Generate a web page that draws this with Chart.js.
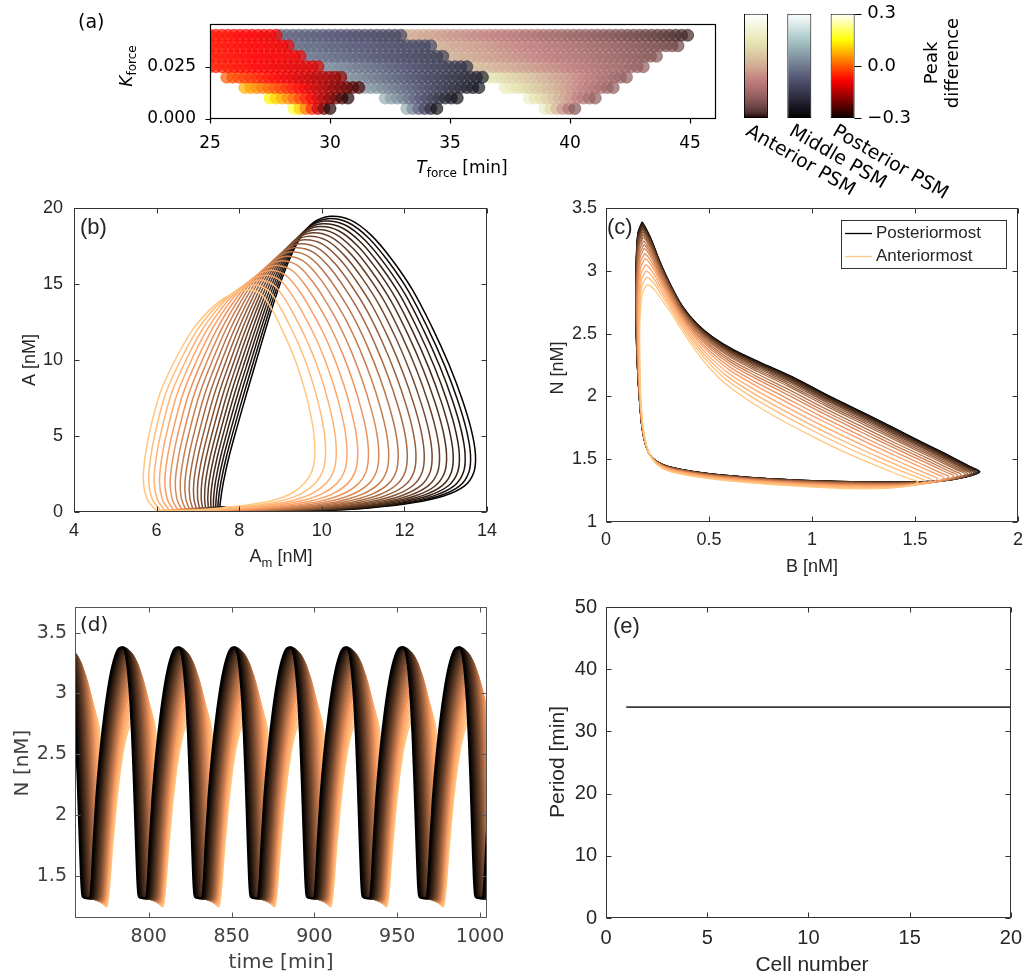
<!DOCTYPE html>
<html>
<head>
<meta charset="utf-8">
<script src="https://cdn.jsdelivr.net/npm/chart.js@4.4.1/dist/chart.umd.min.js"></script>
<style>
  body { margin: 0; background: #fff; }
  #wrap { position: relative; width: 1030px; height: 978px; }
  #wrap canvas { position: absolute; left: 0; top: 0; }
</style>
</head>
<body>
<div id="wrap"></div>
<script>
// ---------------- data ----------------

// (a) forcing scan: one row of circles per K_force value
const kRows = [0.005, 0.010, 0.015, 0.020, 0.025, 0.030, 0.035, 0.040];
const tGridStep = 0.25;
const postFrom = [28.5, 27.5, 26.45, 25.7, 25.0, 25.0, 25.0, 25.0];
const postTo = [30.1, 30.8, 31.2, 30.4, 29.45, 28.7, 28.2, 27.7];
const postDiffFrom = [0.18, 0.14, 0.08, 0.0, -0.05, -0.06, -0.06, -0.06];
const postDiffTo = [-0.28, -0.28, -0.25, -0.18, -0.12, -0.1, -0.1, -0.1];
const midFrom = [33.2, 32.3, 31.45, 30.6, 29.7, 28.95, 28.45, 27.95];
const midTo = [34.5, 35.4, 36.1, 36.45, 35.6, 34.6, 34.3, 32.9];
const midDiffFrom = [0.1, 0.1, 0.08, 0.06, 0.05, 0.0, -0.02, -0.04];
const midDiffTo = [-0.26, -0.26, -0.24, -0.22, -0.17, -0.14, -0.12, -0.12];
const antFrom = [38.95, 38.3, 37.3, 36.6, 35.8, 34.85, 34.5, 33.15];
const antTo = [40.25, 41.1, 41.7, 42.4, 43.0, 43.6, 44.4, 45.0];
const antDiffFrom = [0.18, 0.18, 0.17, 0.15, 0.05, 0.02, 0.01, 0.01];
const antDiffTo = [-0.2, -0.18, -0.18, -0.18, -0.18, -0.2, -0.23, -0.28];
const aTicksX = [25, 30, 35, 40, 45];
const aTicksY = [0, 0.025];

// colorbars
const cbNames = ['Anterior PSM', 'Middle PSM', 'Posterior PSM'];
const cbRange = [-0.3, 0.3];
const cbTicks = [-0.3, 0, 0.3];

// cells along the PSM (posteriormost first)
const cellNumbers = [1, 2, 3, 4, 5, 6, 7, 8, 9, 10, 11, 12, 13, 14, 15, 16, 17, 18, 19, 20];

// (b) A vs A_m, posteriormost (dark) and anteriormost (light) loops
const bDarkAm = [7.53, 7.56, 7.62, 7.75, 7.95, 8.18, 8.42, 8.66, 8.9, 9.17, 9.45, 9.78, 10.2, 10.7, 11.2, 11.7, 12.2, 12.68, 13.08, 13.4, 13.62, 13.72, 13.68, 13.45, 12.95, 12.2, 11.2, 10.0, 8.8, 8.0, 7.53];
const bDarkA = [0.35, 1.0, 2.0, 3.6, 5.6, 7.8, 10.0, 12.2, 14.3, 16.3, 17.9, 19.0, 19.45, 19.2, 18.2, 16.6, 14.6, 12.1, 9.7, 7.4, 5.4, 3.8, 2.6, 1.7, 1.05, 0.6, 0.28, 0.1, 0.08, 0.2, 0.35];
const bLightAm = [5.98, 5.78, 5.68, 5.72, 5.86, 6.08, 6.45, 6.85, 7.25, 7.6, 7.9, 8.12, 8.32, 8.58, 8.82, 9.02, 9.22, 9.42, 9.6, 9.73, 9.81, 9.83, 9.77, 9.6, 9.28, 8.8, 8.1, 7.3, 6.6, 6.2, 5.98];
const bLightA = [0.12, 0.8, 2.0, 3.6, 5.6, 7.8, 10.0, 11.9, 13.2, 14.0, 14.4, 14.58, 14.6, 14.2, 13.2, 12.1, 10.9, 9.5, 7.9, 6.4, 5.1, 3.8, 2.75, 1.95, 1.25, 0.75, 0.42, 0.2, 0.08, 0.06, 0.12];
// right-most A_m of each cell's loop
const bRightEdge = [13.72, 13.60, 13.47, 13.33, 13.18, 13.02, 12.85, 12.67, 12.48, 12.28, 12.07, 11.85, 11.62, 11.38, 11.13, 10.87, 10.61, 10.35, 10.09, 9.83];
const bTicksX = [4, 6, 8, 10, 12, 14];
const bTicksY = [0, 5, 10, 15, 20];

// (c) N vs B loops
const cDarkB = [0.175, 0.155, 0.147, 0.144, 0.146, 0.152, 0.162, 0.175, 0.195, 0.225, 0.28, 0.36, 0.5, 0.75, 1.0, 1.25, 1.48, 1.64, 1.75, 1.815, 1.77, 1.64, 1.48, 1.3, 1.1, 0.9, 0.75, 0.62, 0.52, 0.44, 0.37, 0.31, 0.26, 0.22, 0.19, 0.175];
const cDarkN = [3.39, 3.3, 3.1, 2.85, 2.55, 2.25, 1.98, 1.75, 1.6, 1.51, 1.455, 1.42, 1.385, 1.35, 1.33, 1.32, 1.32, 1.33, 1.36, 1.4, 1.44, 1.55, 1.68, 1.83, 1.99, 2.16, 2.27, 2.37, 2.47, 2.58, 2.72, 2.9, 3.08, 3.25, 3.35, 3.39];
const cLightB = [0.2, 0.178, 0.168, 0.164, 0.164, 0.166, 0.17, 0.18, 0.198, 0.225, 0.27, 0.34, 0.5, 0.75, 1.0, 1.2, 1.36, 1.44, 1.49, 1.515, 1.49, 1.4, 1.28, 1.14, 0.98, 0.82, 0.69, 0.58, 0.49, 0.42, 0.36, 0.31, 0.27, 0.24, 0.215, 0.2];
const cLightN = [2.89, 2.83, 2.7, 2.55, 2.35, 2.15, 1.95, 1.76, 1.6, 1.5, 1.43, 1.39, 1.345, 1.305, 1.278, 1.265, 1.268, 1.28, 1.295, 1.32, 1.335, 1.39, 1.47, 1.57, 1.7, 1.84, 1.97, 2.1, 2.25, 2.4, 2.55, 2.68, 2.77, 2.84, 2.88, 2.89];
// peak N of each cell
const cellPeakN = [3.39, 3.385, 3.38, 3.372, 3.362, 3.352, 3.34, 3.327, 3.31, 3.29, 3.27, 3.24, 3.21, 3.18, 3.14, 3.10, 3.05, 3.00, 2.95, 2.89];
const cTicksX = [0, 0.5, 1, 1.5, 2];
const cTicksY = [1, 1.5, 2, 2.5, 3, 3.5];

// (d) one period of N(t), minutes after the cell's own peak
const dDarkT = [0, 1.5, 3, 4.5, 5.5, 6.5, 7.3, 8, 8.6, 9.1, 9.6, 11.5, 13.5, 14.3, 15.1, 16.2, 17.8, 20, 23, 26, 29, 31.5, 33.8];
const dDarkN = [3.38, 3.33, 3.18, 2.92, 2.65, 2.3, 1.98, 1.7, 1.48, 1.37, 1.33, 1.32, 1.32, 1.35, 1.5, 1.8, 2.15, 2.5, 2.86, 3.13, 3.3, 3.37, 3.38];
const dLightT = [0, 2, 4, 5.5, 6.5, 7.3, 8, 8.6, 9.0, 9.3, 9.6, 10.0, 10.4, 11.0, 12.0, 13.5, 15.5, 18, 21, 24.5, 28, 31, 33.8];
const dLightN = [2.87, 2.86, 2.8, 2.7, 2.52, 2.25, 1.9, 1.6, 1.43, 1.33, 1.27, 1.25, 1.27, 1.33, 1.48, 1.75, 2.05, 2.35, 2.6, 2.76, 2.84, 2.87, 2.87];
// peak times of the posteriormost cell and each cell's lag behind it
const dPeakTimes = [716.8, 750.6, 784.5, 818.3, 852.0, 885.9, 919.6, 953.8, 987.7, 1021.5];
const dCellLag = [0, 0.8, 1.6, 2.4, 3.2, 4.0, 4.8, 5.5, 6.2, 6.9, 7.6, 8.3, 9.0, 9.7, 10.4, 11.0, 11.7, 12.4, 13.1, 13.9];
const dTicksX = [800, 850, 900, 950, 1000];
const dTicksY = [1.5, 2, 2.5, 3, 3.5];

// (e) period per cell
const cellPeriod = [33.9, 33.9, 33.9, 33.9, 33.9, 33.9, 33.9, 33.9, 33.9, 33.9, 33.9, 33.9, 33.9, 33.9, 33.9, 33.9, 33.9, 33.9, 33.9, 33.9];
const eTicksX = [0, 5, 10, 15, 20];
const eTicksY = [0, 10, 20, 30, 40, 50];

// ---------------- helpers ----------------
const W = 1030, H = 978;
const FM = 'Liberation Sans, Arial, sans-serif';
const FP = 'DejaVu Sans, sans-serif';
const MC = '#262626';
const wrap = document.getElementById('wrap');

function layer() {
  const c = document.createElement('canvas');
  c.width = W; c.height = H;
  wrap.appendChild(c);
  return c;
}
function lerp(a, b, w) { return a + (b - a) * w; }
function seg(table, x) {
  for (let i = 1; i < table.length; i++) {
    if (x <= table[i][0]) {
      const [x0, y0] = table[i - 1], [x1, y1] = table[i];
      return y0 + (y1 - y0) * (x - x0) / (x1 - x0);
    }
  }
  return table[table.length - 1][1];
}
const HOT = { r: [[0, 0.0416], [0.365, 1], [1, 1]], g: [[0, 0], [0.365, 0], [0.746, 1], [1, 1]], b: [[0, 0], [0.746, 0], [1, 1]] };
function hot(x) { return [seg(HOT.r, x), seg(HOT.g, x), seg(HOT.b, x)]; }
function bone(x) { const h = hot(x); return [(7 * x + h[2]) / 8, (7 * x + h[1]) / 8, (7 * x + h[0]) / 8]; }
function pink(x) { const h = hot(x); return h.map(c => Math.sqrt((2 * x + c) / 3)); }
function copper(x) { return [Math.min(1, 1.25 * x), 0.7812 * x, 0.4975 * x]; }
function rgba(c, a) {
  return 'rgba(' + c.map(v => Math.round(255 * Math.min(1, Math.max(0, v)))).join(',') + ',' + a + ')';
}
const cellColor = i => rgba(copper(i / (cellNumbers.length - 1)), 1);

function drawText(ctx, t) {
  ctx.save();
  ctx.translate(t.x, t.y);
  if (t.rot) ctx.rotate(t.rot);
  ctx.fillStyle = t.color || MC;
  ctx.textBaseline = t.baseline || 'alphabetic';
  let total = 0;
  t.parts.forEach(p => { ctx.font = p.font; p.w = ctx.measureText(p.t).width; total += p.w; });
  let cx = t.align === 'center' ? -total / 2 : t.align === 'right' ? -total : 0;
  t.parts.forEach(p => { ctx.font = p.font; ctx.fillText(p.t, cx, p.dy || 0); cx += p.w; });
  ctx.restore();
}
const txt = (s, font) => ({ t: s, font: font });

// box + tick marks + free text, drawn on top of the data
function decor(o) {
  return {
    id: 'decor',
    afterDraw(chart) {
      const ctx = chart.ctx, a = chart.chartArea, sx = chart.scales.x, sy = chart.scales.y;
      ctx.save();
      ctx.strokeStyle = o.color; ctx.lineWidth = o.lw || 1;
      const L = Math.round(a.left) + 0.5, R = Math.round(a.right) - 0.5;
      const T = Math.round(a.top) + 0.5, B = Math.round(a.bottom) - 0.5;
      ctx.strokeRect(L, T, R - L, B - T);
      ctx.beginPath();
      sx.ticks.forEach(t => {
        const p = Math.round(sx.getPixelForValue(t.value)) + 0.5;
        if (o.outward) { ctx.moveTo(p, B); ctx.lineTo(p, B + o.len); }
        else { ctx.moveTo(p, B); ctx.lineTo(p, B - o.len); ctx.moveTo(p, T); ctx.lineTo(p, T + o.len); }
      });
      sy.ticks.forEach(t => {
        const p = Math.round(sy.getPixelForValue(t.value)) + 0.5;
        if (o.outward) { ctx.moveTo(L, p); ctx.lineTo(L - o.len, p); }
        else { ctx.moveTo(L, p); ctx.lineTo(L + o.len, p); ctx.moveTo(R, p); ctx.lineTo(R - o.len, p); }
      });
      ctx.stroke();
      if (o.extra) o.extra(ctx, chart);
      (o.texts || []).forEach(t => drawText(ctx, t));
      ctx.restore();
    }
  };
}

function axis(min, max, ticks, o) {
  return {
    type: 'linear', min: min, max: max,
    afterBuildTicks: s => { s.ticks = ticks.map(v => ({ value: v })); },
    afterFit: s => { if (s.isHorizontal()) s.height = o.size; else s.width = o.size; },
    grid: { display: false, drawTicks: false },
    border: { display: false },
    ticks: { font: o.font, color: o.color, padding: o.padding, autoSkip: false, maxRotation: 0, callback: o.fmt || (v => String(v)) }
  };
}

function baseOptions(box, scales, yW, xH) {
  return {
    animation: false, responsive: false, devicePixelRatio: 1, events: [],
    layout: { autoPadding: false, padding: { left: box[0] - yW, top: box[1], right: W - box[2], bottom: H - box[3] - xH } },
    plugins: { legend: { display: false }, tooltip: { enabled: false } },
    scales: scales
  };
}

// ---------------- (a) scatter of the forcing scan ----------------
function tongue(from, to, dFrom, dTo, cmap) {
  const pts = [];
  kRows.forEach((k, r) => {
    const n = Math.round((to[r] - from[r]) / tGridStep);
    for (let j = 0; j <= n; j++) {
      pts.push({ x: from[r] + j * tGridStep, y: k, v: lerp(dFrom[r], dTo[r], n ? j / n : 0) });
    }
  });
  const cols = pts.map(p => cmap((p.v - cbRange[0]) / (cbRange[1] - cbRange[0])));
  return {
    data: pts, showLine: false, clip: 0,
    pointRadius: 6, pointBorderWidth: 0.8,
    pointBackgroundColor: cols.map(c => rgba(c, 0.7)),
    pointBorderColor: cols.map(c => rgba(c, 0.75))
  };
}

const aBox = [210, 13, 716, 119];
const aFont = { family: FP, size: 17 };
new Chart(layer(), {
  type: 'scatter',
  data: { datasets: [
    tongue(postFrom, postTo, postDiffFrom, postDiffTo, hot),
    tongue(midFrom, midTo, midDiffFrom, midDiffTo, bone),
    tongue(antFrom, antTo, antDiffFrom, antDiffTo, pink)
  ] },
  options: baseOptions(aBox, {
    x: axis(25, 46.08, aTicksX, { size: 40, font: aFont, color: '#000', padding: 14 }),
    y: axis(0, 0.0453, aTicksY, { size: 90, font: aFont, color: '#000', padding: 14, fmt: v => v.toFixed(3) })
  }, 90, 40),
  plugins: [decor({
    color: '#000', lw: 1.2, len: 5, outward: true,
    texts: [
      { parts: [txt('(a)', '19px ' + FP)], x: 78, y: 28, color: '#000' },
      { parts: [txt('T', 'italic 17px ' + FP), { t: 'force', font: '12px ' + FP, dy: 4 }, txt(' [min]', '17px ' + FP)], x: 462, y: 173, align: 'center', color: '#000' },
      { parts: [txt('K', 'italic 17px ' + FP), { t: 'force', font: '12px ' + FP, dy: 4 }], x: 132, y: 66, rot: -Math.PI / 2, align: 'center', color: '#000' }
    ]
  })]
});

// ---------------- colorbars ----------------
const cbMaps = [pink, bone, hot];
function cbFill(c) {
  const chart = c.chart, a = chart.chartArea;
  if (!a) return 'rgba(0,0,0,0)';
  const y0 = chart.scales.y.getPixelForValue(cbRange[0]), y1 = chart.scales.y.getPixelForValue(cbRange[1]);
  const g = chart.ctx.createLinearGradient(0, y0, 0, y1);
  for (let i = 0; i <= 20; i++) g.addColorStop(i / 20, rgba(cbMaps[c.dataIndex](i / 20), 1));
  return g;
}
const cbBox = [734.3, 8, 864.3, 118];
new Chart(layer(), {
  type: 'bar',
  data: { labels: cbNames, datasets: [{
    data: cbNames.map(() => cbRange.slice()),
    backgroundColor: cbFill, borderColor: '#000', borderWidth: 1, borderSkipped: false,
    barPercentage: 0.554, categoryPercentage: 1
  }] },
  options: {
    animation: false, responsive: false, devicePixelRatio: 1, events: [],
    layout: { autoPadding: false, padding: { left: cbBox[0], top: cbBox[1], right: W - cbBox[2] - 60, bottom: H - cbBox[3] } },
    plugins: { legend: { display: false }, tooltip: { enabled: false } },
    scales: {
      x: { display: false },
      y: Object.assign(axis(cbRange[0], cbRange[1], cbTicks, {
        size: 60, font: { family: FP, size: 18 }, color: '#000', padding: 3,
        fmt: v => (v < 0 ? '\u2212' : '') + Math.abs(v).toFixed(1)
      }), { position: 'right' })
    }
  },
  plugins: [{
    id: 'cbDecor',
    afterDraw(chart) {
      const ctx = chart.ctx, meta = chart.getDatasetMeta(0), sy = chart.scales.y;
      const last = meta.data[meta.data.length - 1];
      const xr = Math.round(last.x + last.width / 2) - 0.5;
      ctx.save();
      ctx.strokeStyle = '#000'; ctx.lineWidth = 1.2;
      ctx.beginPath();
      sy.ticks.forEach(t => {
        const p = Math.round(sy.getPixelForValue(t.value)) + 0.5;
        ctx.moveTo(xr, p); ctx.lineTo(xr + 7, p);
      });
      ctx.stroke();
      meta.data.forEach((el, i) => {
        drawText(ctx, { parts: [txt(cbNames[i], '19px ' + FP)], x: el.x - el.width / 2 + 8, y: 122, rot: Math.PI / 6, baseline: 'top', color: '#000' });
      });
      drawText(ctx, { parts: [txt('Peak', '18px ' + FP)], x: 937, y: 63, rot: -Math.PI / 2, align: 'center', color: '#000' });
      drawText(ctx, { parts: [txt('difference', '18px ' + FP)], x: 958, y: 63, rot: -Math.PI / 2, align: 'center', color: '#000' });
      ctx.restore();
    }
  }]
});

// ---------------- (b) ----------------
const mFont = { family: FM, size: 18 };
const bBox = [74, 208, 487, 512];
new Chart(layer(), {
  type: 'scatter',
  data: { datasets: cellNumbers.map((n, i) => {
    const w = (bRightEdge[0] - bRightEdge[i]) / (bRightEdge[0] - bRightEdge[bRightEdge.length - 1]);
    return {
      data: bDarkAm.map((am, j) => ({ x: lerp(am, bLightAm[j], w), y: lerp(bDarkA[j], bLightA[j], w) })),
      showLine: true, borderColor: cellColor(i), borderWidth: 1.5, pointRadius: 0, tension: 0.35, order: cellNumbers.length - i
    };
  }) },
  options: baseOptions(bBox, {
    x: axis(4, 14, bTicksX, { size: 40, font: mFont, color: MC, padding: 8 }),
    y: axis(0, 20, bTicksY, { size: 70, font: mFont, color: MC, padding: 11 })
  }, 70, 40),
  plugins: [decor({
    color: '#333', len: 5,
    texts: [
      { parts: [txt('(b)', '22px ' + FM)], x: 80, y: 234 },
      { parts: [txt('A', '18px ' + FM), { t: 'm', font: '13px ' + FM, dy: 5 }, txt(' [nM]', '18px ' + FM)], x: 281, y: 562, align: 'center' },
      { parts: [txt('A [nM]', '18px ' + FM)], x: 35, y: 360, rot: -Math.PI / 2, align: 'center' }
    ]
  })]
});

// ---------------- (c) ----------------
const cBox = [606, 208, 1018, 522];
const peakW = i => (cellPeakN[0] - cellPeakN[i]) / (cellPeakN[0] - cellPeakN[cellPeakN.length - 1]);
new Chart(layer(), {
  type: 'scatter',
  data: { datasets: cellNumbers.map((n, i) => {
    const w = peakW(i);
    return {
      data: cDarkB.map((b, j) => ({ x: lerp(b, cLightB[j], w), y: lerp(cDarkN[j], cLightN[j], w) })),
      showLine: true, borderColor: cellColor(i), borderWidth: 1.3, pointRadius: 0, tension: 0.3, order: cellNumbers.length - i
    };
  }) },
  options: baseOptions(cBox, {
    x: axis(0, 2, cTicksX, { size: 40, font: mFont, color: MC, padding: 7 }),
    y: axis(1, 3.5, cTicksY, { size: 70, font: mFont, color: MC, padding: 9 })
  }, 70, 40),
  plugins: [decor({
    color: '#333', len: 5,
    texts: [
      { parts: [txt('(c)', '22px ' + FM)], x: 607, y: 234 },
      { parts: [txt('B [nM]', '18px ' + FM)], x: 812, y: 572, align: 'center' },
      { parts: [txt('N [nM]', '18px ' + FM)], x: 563, y: 368, rot: -Math.PI / 2, align: 'center' }
    ],
    extra(ctx) {
      ctx.fillStyle = '#fff';
      ctx.fillRect(841, 220, 165, 48);
      ctx.strokeStyle = '#333'; ctx.lineWidth = 1;
      ctx.strokeRect(841.5, 220.5, 165, 48);
      [[0, 'Posteriormost', 233], [cellNumbers.length - 1, 'Anteriormost', 256]].forEach(([i, label, y]) => {
        ctx.strokeStyle = cellColor(i); ctx.lineWidth = 1.3;
        ctx.beginPath(); ctx.moveTo(845, y + 0.5); ctx.lineTo(872, y + 0.5); ctx.stroke();
        drawText(ctx, { parts: [txt(label, '17px ' + FM)], x: 876, y: y, baseline: 'middle' });
      });
    }
  })]
});

// ---------------- (d) ----------------
const dBox = [75, 607, 487, 918];
const dFont = { family: FP, size: 19 };
const dColor = '#404040';
new Chart(layer(), {
  type: 'line',
  data: { datasets: cellNumbers.map((n, i) => {
    const w = peakW(i);
    const pts = [];
    dPeakTimes.forEach(p => {
      const t0 = p + dCellLag[i];
      for (let j = 0; j < dDarkT.length - 1; j++) {
        pts.push({ x: t0 + lerp(dDarkT[j], dLightT[j], w), y: lerp(dDarkN[j], dLightN[j], w) });
      }
    });
    // posterior cells are drawn on top here
    return { data: pts, borderColor: cellColor(i), borderWidth: 2.2, pointRadius: 0, cubicInterpolationMode: 'monotone', order: i };
  }) },
  options: baseOptions(dBox, {
    x: axis(755.5, 1004.2, dTicksX, { size: 40, font: dFont, color: dColor, padding: 8 }),
    y: axis(1.156, 3.71, dTicksY, { size: 70, font: dFont, color: dColor, padding: 8 })
  }, 70, 40),
  plugins: [decor({
    color: '#555', len: 5,
    texts: [
      { parts: [txt('(d)', '20px ' + FP)], x: 80, y: 631, color: '#222' },
      { parts: [txt('time [min]', '20px ' + FP)], x: 281, y: 968, align: 'center', color: dColor },
      { parts: [txt('N [nM]', '20px ' + FP)], x: 28, y: 763, rot: -Math.PI / 2, align: 'center', color: dColor }
    ]
  })]
});

// ---------------- (e) ----------------
const eBox = [606, 607, 1018, 918];
const eFont = { family: FM, size: 20 };
new Chart(layer(), {
  type: 'scatter',
  data: { datasets: [{
    data: cellNumbers.map((n, i) => ({ x: n, y: cellPeriod[i] })),
    showLine: true, borderColor: '#3a3a3a', borderWidth: 1.6, pointRadius: 0
  }] },
  options: baseOptions(eBox, {
    x: axis(0, 20, eTicksX, { size: 40, font: eFont, color: MC, padding: 8 }),
    y: axis(0, 50, eTicksY, { size: 70, font: eFont, color: MC, padding: 9 })
  }, 70, 40),
  plugins: [decor({
    color: '#333', len: 5,
    texts: [
      { parts: [txt('(e)', '22px ' + FM)], x: 613, y: 633 },
      { parts: [txt('Cell number', '21px ' + FM)], x: 812, y: 971, align: 'center' },
      { parts: [txt('Period [min]', '21px ' + FM)], x: 564, y: 762, rot: -Math.PI / 2, align: 'center' }
    ]
  })]
});
</script>
</body>
</html>
